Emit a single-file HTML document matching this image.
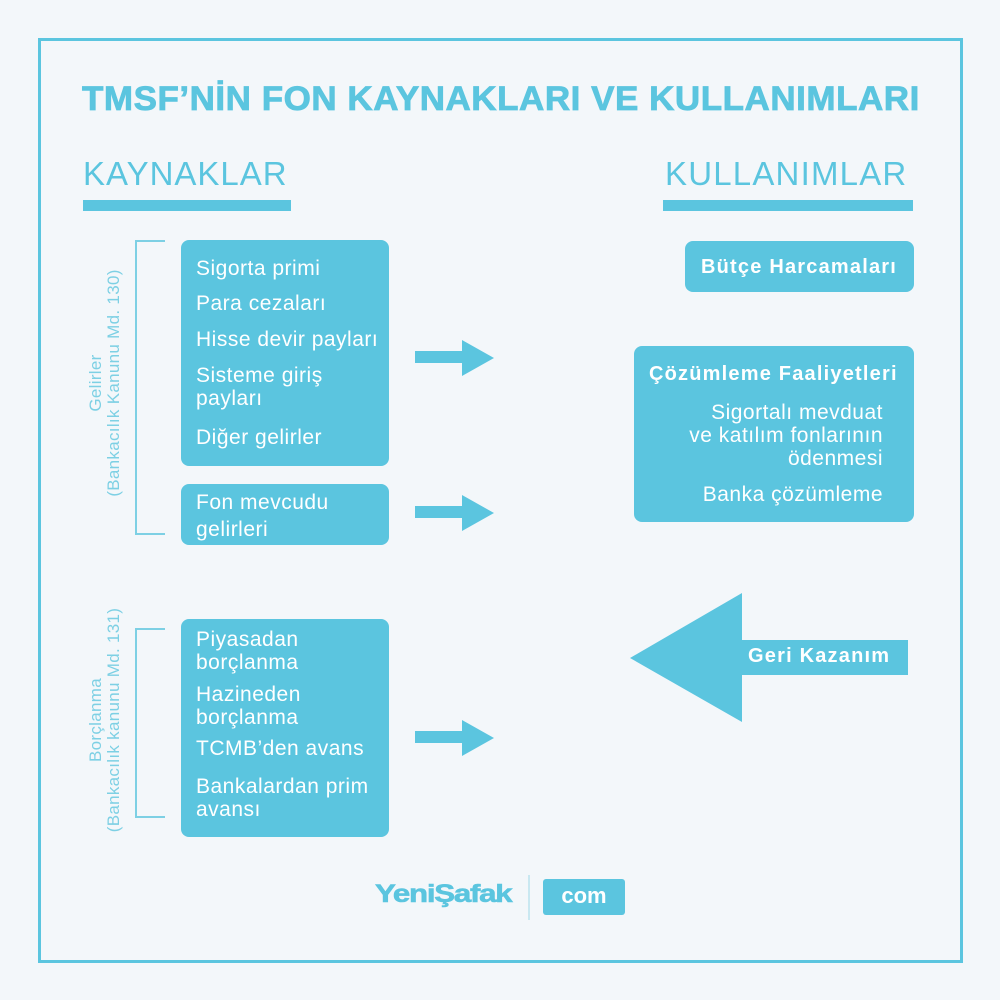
<!DOCTYPE html>
<html><head><meta charset="utf-8"><style>
*{margin:0;padding:0;box-sizing:border-box}
body{width:1000px;height:1000px;background:#f3f7fa;position:relative;overflow:hidden;font-family:"Liberation Sans",sans-serif;color:#5bc5df}
.a{position:absolute}
.box{position:absolute;background:#5bc5df;border-radius:8px;color:#fff;font-size:21px;letter-spacing:0.5px}
.box div{position:absolute;left:15px;line-height:23px;white-space:nowrap}
.b{font-weight:bold;font-size:20px;letter-spacing:1.2px}
.rot{position:absolute;transform:rotate(-90deg);transform-origin:center;text-align:center;font-size:17px;line-height:18px;color:#7dd0e4;white-space:nowrap;letter-spacing:0.3px}
</style></head><body>
<div class="a" style="left:38px;top:38px;width:925px;height:925px;border:3px solid #5bc5df"></div>
<div class="a" style="left:82px;top:80px;font-size:34px;font-weight:900;white-space:nowrap;transform:scaleX(1.03);transform-origin:left;letter-spacing:0.5px;-webkit-text-stroke:0.8px #5bc5df">TMSF’NİN FON KAYNAKLARI VE KULLANIMLARI</div>
<div class="a" style="left:83px;top:155px;font-size:33px;letter-spacing:1px">KAYNAKLAR</div>
<div class="a" style="left:83px;top:200px;width:208px;height:11px;background:#5bc5df"></div>
<div class="a" style="left:665px;top:155px;font-size:33px;letter-spacing:1.2px">KULLANIMLAR</div>
<div class="a" style="left:663px;top:200px;width:250px;height:11px;background:#5bc5df"></div>

<svg class="a" style="left:0;top:0" width="1000" height="1000">
<g stroke="#7dd0e4" stroke-width="2" fill="none">
<path d="M165 241 H136 V534 H165"/>
<path d="M165 629 H136 V817 H165"/>
</g>
<g fill="#5bc5df">
<path d="M415 351 H462 V340 L494 358 L462 376 V363 H415Z"/>
<path d="M415 506 H462 V495 L494 513 L462 531 V518 H415Z"/>
<path d="M415 731 H462 V720 L494 738 L462 756 V743 H415Z"/>
<path d="M630 658 L742 593 V640 H908 V675 H742 V722Z"/>
</g>
<line x1="529" y1="875" x2="529" y2="920" stroke="#9fd9e8" stroke-width="1"/>
</svg>

<div class="rot" style="left:-45px;top:365px;width:300px">Gelirler<br>(Bankacılık Kanunu Md. 130)</div>
<div class="rot" style="left:-45px;top:702px;width:300px">Borçlanma<br>(Bankacılık kanunu Md. 131)</div>

<div class="box" style="left:181px;top:240px;width:208px;height:226px">
<div style="top:17px">Sigorta primi</div>
<div style="top:52px">Para cezaları</div>
<div style="top:88px">Hisse devir payları</div>
<div style="top:124px">Sisteme giriş<br>payları</div>
<div style="top:186px">Diğer gelirler</div>
</div>
<div class="box" style="left:181px;top:484px;width:208px;height:61px">
<div style="top:5px;line-height:27px">Fon mevcudu<br>gelirleri</div>
</div>
<div class="box" style="left:181px;top:619px;width:208px;height:218px">
<div style="top:9px">Piyasadan<br>borçlanma</div>
<div style="top:64px">Hazineden<br>borçlanma</div>
<div style="top:118px">TCMB’den avans</div>
<div style="top:156px">Bankalardan prim<br>avansı</div>
</div>
<div class="box" style="left:685px;top:241px;width:229px;height:51px">
<div class="b" style="top:15px;left:16px">Bütçe Harcamaları</div>
</div>
<div class="box" style="left:634px;top:346px;width:280px;height:176px">
<div class="b" style="top:17px">Çözümleme Faaliyetleri</div>
<div style="top:55px;right:31px;left:auto;text-align:right">Sigortalı mevduat<br>ve katılım fonlarının<br>ödenmesi</div>
<div style="top:137px;right:31px;left:auto">Banka çözümleme</div>
</div>
<div class="a b" style="left:748px;top:645px;color:#fff">Geri Kazanım</div>

<div class="a" style="left:375px;top:880px;font-size:25px;font-weight:900;letter-spacing:-1px;transform:scaleX(1.25);transform-origin:left;-webkit-text-stroke:0.6px #5bc5df">YeniŞafak</div>
<div class="a" style="left:543px;top:879px;width:82px;height:36px;background:#5bc5df;border-radius:3px;color:#fff;font-weight:bold;font-size:22px;text-align:center;line-height:34px">com</div>
</body></html>
